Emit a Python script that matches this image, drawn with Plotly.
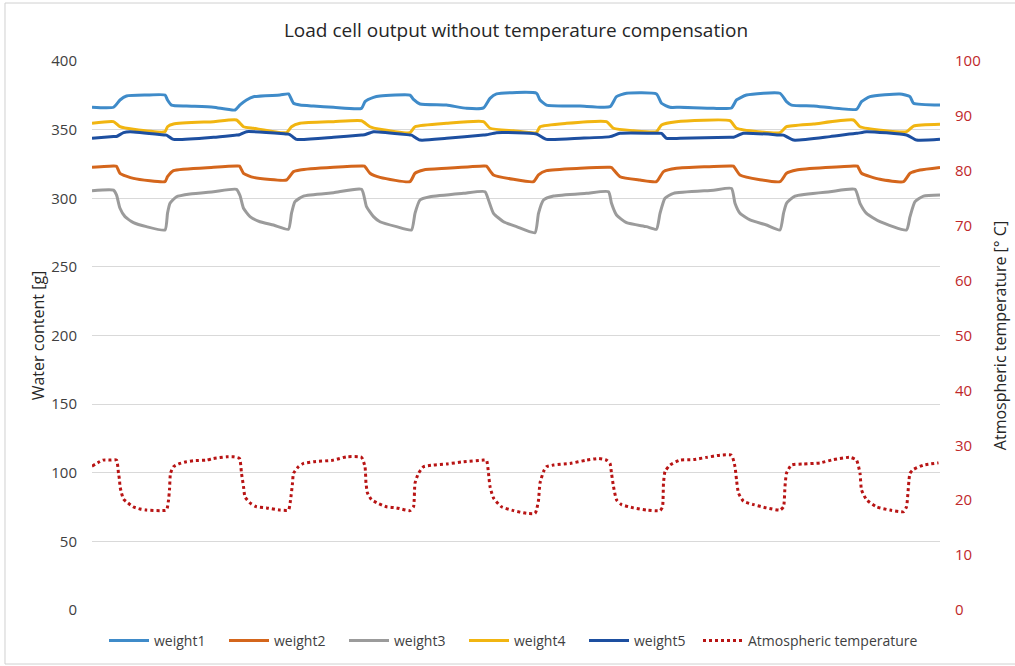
import plotly.graph_objects as go

# Elapsed time (h) and readings for each load cell and the ambient temperature
t_temp = [0, 2.2, 3.6, 4.9, 5.3, 5.5, 5.6, 5.9, 6.3, 7.2, 8.2, 9.6, 10.9, 13.6, 14.9, 15.3, 15.5, 15.7, 16.3,
          17.6, 18.9, 20.3, 22.9, 24.3, 26.9, 28.3, 29.5, 29.9, 30.3, 30.6, 31.6, 32.9, 34.9, 37.6, 39.3, 39.7,
          40.1, 40.3, 41.3, 42.3, 44.3, 48.3, 50.9, 53.9, 54.6, 54.8, 55.1, 55.9, 57.3, 58.9, 60.9, 63.6, 64.3,
          64.6, 65.3, 66.3, 68.3, 70.9, 74.3, 78.3, 78.9, 79.3, 79.6, 80.3, 81.9, 84.3, 86.9, 88.6, 88.9, 89.3,
          89.6, 90.3, 90.9, 92.3, 95.6, 98.9, 101.3, 102.9, 103.6, 103.9, 104.3, 104.9, 105.9, 108.3, 110.9,
          113.6, 114.1, 114.3, 114.6, 115.6, 117.6, 120.3, 122.9, 125.6, 127.9, 128.6, 128.9, 129.3, 130.3,
          132.3, 134.9, 137.6, 138.3, 138.6, 138.9, 139.9, 142.3, 145.6, 148.3, 151.6, 152.9, 153.6, 153.9,
          154.9, 156.9, 159.6, 162.3, 162.9, 163.6, 164.3, 166.3, 169.3]
temp_c = [26.2, 27.3, 27.3, 27.3, 24.9, 23.7, 22.5, 21.3, 20.2, 19.5, 18.8, 18.4, 18.2, 18.1, 18.2, 20.0, 21.9,
          24.9, 26.1, 26.7, 27.0, 27.2, 27.3, 27.6, 27.9, 27.9, 27.6, 24.9, 22.5, 20.6, 19.5, 18.8, 18.6, 18.2,
          18.2, 20.0, 23.1, 24.9, 26.1, 26.7, 27.0, 27.3, 27.9, 27.8, 26.1, 23.1, 21.3, 20.1, 19.4, 18.8, 18.6,
          18.1, 18.8, 23.1, 24.9, 26.1, 26.4, 26.6, 27.0, 27.3, 27.3, 24.9, 22.5, 20.4, 18.8, 18.1, 17.6, 17.6,
          18.2, 20.0, 23.1, 25.2, 26.1, 26.4, 26.7, 27.3, 27.6, 27.3, 26.7, 24.9, 22.5, 20.1, 19.2, 18.6, 18.2,
          18.1, 18.8, 23.1, 25.2, 26.4, 27.3, 27.4, 27.8, 28.2, 28.2, 26.1, 23.7, 21.3, 19.8, 19.2, 18.6, 18.2,
          18.8, 22.5, 24.9, 26.4, 26.6, 26.8, 27.4, 27.8, 27.3, 24.9, 21.9, 20.1, 18.8, 18.2, 17.9, 18.8, 24.9,
          25.6, 26.4, 26.8]

t_w1 = [0, 4.3, 5.6, 6.9, 10.9, 14.6, 15.1, 15.9, 18.9, 24.3, 28.6, 29.6, 30.9, 32.3, 37.6, 39.3, 40.3, 41.6,
        44.3, 48.3, 53.9, 54.6, 56.3, 57.6, 63.6, 64.3, 65.6, 70.9, 74.9, 78.3, 79.6, 80.9, 88.9, 89.6, 90.9,
        97.6, 103.6, 104.9, 106.9, 112.9, 113.9, 115.6, 117.6, 124.3, 127.9, 128.9, 130.9, 137.6, 138.9, 139.9,
        144.3, 152.9, 153.9, 155.6, 161.6, 163.6, 164.3, 169.6]
w1_g = [366.3, 366.3, 371.6, 374.5, 375.2, 375.2, 371.6, 367.9, 367.2, 366.3, 364.3, 368.0, 371.6, 374.0, 375.2,
        376.0, 369.2, 367.9, 367.2, 366.3, 365.5, 370.4, 373.5, 374.5, 375.2, 372.0, 368.7, 367.9, 365.5, 365.8,
        372.8, 376.0, 376.5, 371.6, 367.9, 367.2, 366.7, 374.0, 376.5, 376.0, 369.2, 366.3, 366.3, 365.5, 365.8,
        371.6, 375.2, 376.5, 370.4, 367.9, 367.2, 364.8, 370.4, 374.0, 376.0, 374.0, 369.2, 367.9]

t_w2 = [0, 4.3, 4.9, 5.6, 8.3, 14.6, 15.1, 16.3, 24.3, 28.9, 29.5, 30.3, 32.3, 38.9, 40.3, 41.6, 48.3, 53.9,
        54.5, 55.6, 57.6, 63.6, 64.6, 66.3, 70.9, 78.3, 78.9, 80.3, 84.3, 88.3, 89.3, 90.9, 97.6, 103.6, 103.9,
        105.6, 109.6, 112.9, 114.3, 116.9, 127.6, 128.3, 129.6, 137.6, 138.9, 140.9, 152.3, 153.1, 153.9, 157.6,
        162.3, 163.6, 165.6, 169.6]
w2_g = [322.5, 323.5, 323.3, 318.2, 314.5, 312.1, 315.7, 320.1, 322.5, 323.5, 323.4, 318.2, 315.2, 313.3, 319.4,
        320.6, 322.5, 323.5, 323.4, 318.2, 315.2, 312.1, 318.2, 320.6, 321.8, 323.5, 323.4, 317.0, 313.8, 312.1,
        317.0, 320.1, 321.8, 322.5, 322.4, 315.7, 313.3, 312.1, 319.4, 321.8, 323.5, 323.4, 317.0, 312.1, 318.2,
        320.6, 323.5, 323.4, 318.2, 313.8, 312.1, 318.2, 320.6, 322.5]

t_w3 = [0, 4.3, 4.9, 5.6, 6.6, 8.3, 10.9, 14.6, 15.1, 15.6, 16.9, 19.6, 24.3, 28.9, 29.6, 30.3, 31.6, 33.6,
        36.3, 39.3, 39.9, 40.6, 42.3, 48.3, 53.9, 54.9, 56.3, 57.6, 60.9, 63.9, 64.6, 65.6, 67.6, 74.3, 78.6,
        79.3, 80.3, 82.3, 84.9, 88.6, 89.3, 90.3, 92.3, 98.9, 103.3, 103.9, 104.9, 106.9, 110.9, 112.9, 113.6,
        114.6, 116.3, 124.3, 127.9, 128.6, 129.6, 131.6, 134.9, 137.6, 138.3, 138.9, 140.6, 147.6, 152.6,
        153.6, 154.9, 157.6, 162.9, 163.6, 164.6, 166.3, 169.6]
w3_g = [305.5, 305.9, 302.4, 292.7, 286.6, 282.2, 279.3, 276.9, 289.0, 296.3, 301.1, 303.1, 304.8, 306.5, 302.0,
        292.7, 286.6, 282.9, 280.5, 277.4, 289.0, 297.5, 301.6, 304.0, 306.5, 293.9, 286.6, 282.9, 279.3, 276.9,
        289.0, 298.7, 301.1, 303.6, 304.8, 298.7, 289.0, 282.9, 279.3, 274.9, 289.0, 298.7, 301.6, 303.6, 304.8,
        296.3, 287.8, 282.2, 279.3, 277.4, 289.0, 300.0, 303.6, 305.9, 307.2, 296.3, 289.0, 284.2, 280.5, 276.9,
        289.0, 296.3, 301.6, 304.8, 306.5, 296.3, 289.0, 282.9, 276.9, 286.6, 297.5, 301.6, 302.4]

t_w4 = [0, 4.3, 5.6, 8.3, 14.6, 15.1, 16.3, 24.3, 28.9, 30.3, 32.3, 38.9, 39.9, 41.6, 48.3, 53.9, 55.6, 57.6,
        63.6, 64.6, 70.9, 78.3, 79.6, 84.3, 88.9, 89.6, 94.9, 102.9, 104.3, 108.3, 112.9, 113.9, 116.9, 127.6,
        128.9, 137.6, 138.9, 144.3, 152.3, 153.6, 162.9, 164.3, 169.6]
w4_g = [354.6, 355.8, 352.1, 350.2, 348.5, 352.1, 354.1, 355.8, 357.0, 352.1, 351.0, 347.8, 352.1, 354.6, 355.8,
        356.5, 352.1, 350.2, 347.8, 352.1, 354.6, 355.8, 351.0, 349.2, 347.8, 352.1, 354.6, 355.8, 351.0, 349.2,
        348.5, 353.4, 355.8, 356.5, 351.0, 347.8, 352.1, 354.1, 357.0, 352.1, 348.5, 352.6, 353.9]

t_w5 = [0, 4.3, 4.9, 6.3, 7.6, 14.6, 14.9, 16.3, 24.3, 28.9, 29.5, 30.9, 38.9, 39.5, 40.9, 48.3, 53.9, 54.5,
        56.3, 63.6, 63.9, 65.6, 70.9, 78.3, 78.9, 80.9, 88.9, 90.9, 97.6, 103.6, 105.6, 112.9, 113.9, 114.9,
        117.6, 127.6, 128.3, 130.3, 137.6, 138.3, 140.3, 147.6, 152.9, 153.1, 154.9, 162.9, 164.9, 169.6]
w5_g = [343.7, 344.9, 345.0, 347.8, 348.5, 346.1, 346.0, 342.9, 344.4, 346.1, 346.3, 348.5, 346.8, 346.6, 342.9,
        344.4, 346.1, 346.2, 348.5, 346.1, 346.0, 342.4, 343.7, 346.1, 346.2, 347.8, 346.8, 342.9, 343.7, 344.9,
        347.3, 347.3, 347.2, 343.7, 343.7, 344.4, 344.5, 347.3, 346.1, 346.0, 342.4, 344.9, 347.3, 347.3, 348.5,
        346.1, 342.4, 342.9]

weight_series = [
    ("weight1", t_w1, w1_g, "#3F8BC9"),
    ("weight2", t_w2, w2_g, "#D4661C"),
    ("weight3", t_w3, w3_g, "#9B9B9B"),
    ("weight4", t_w4, w4_g, "#F1B511"),
    ("weight5", t_w5, w5_g, "#1D4FA0"),
]
temp_color = "#B81414"
text_font = "Open Sans"

fig = go.Figure()
for name, t, g, color in weight_series:
    fig.add_trace(go.Scatter(x=t, y=g, name=name, mode="lines", legend="legend",
                             line=dict(color=color, width=3, shape="spline", smoothing=0.5),
                             yaxis="y"))
fig.add_trace(go.Scatter(x=t_temp, y=temp_c, name="Atmospheric temperature", mode="lines",
                         legend="legend2",
                         line=dict(color=temp_color, width=3, dash="dot", shape="spline", smoothing=0.5),
                         yaxis="y2"))

# light frame around the whole chart area
frame = dict(type="line", xref="paper", yref="paper", line=dict(color="#D0D0D0", width=1))
left, right, top, bottom = -0.1026, 1.1, 1.1056, -0.0984
shapes = [
    dict(frame, x0=left, x1=left, y0=bottom, y1=top),
    dict(frame, x0=left, x1=right, y0=top, y1=top),
    dict(frame, x0=left, x1=right, y0=bottom, y1=bottom),
]

legend_y = (610 - 641) / 549
legend_font = dict(size=14, color="#404040")

fig.update_layout(
    width=1015, height=666,
    margin=dict(l=92, r=75, t=61, b=56, autoexpand=False),
    paper_bgcolor="white", plot_bgcolor="white",
    font=dict(family=text_font, color="#404040", size=14),
    title=dict(text="Load cell output without temperature compensation",
               x=0.5, xref="paper", xanchor="center",
               y=1 - 30 / 666, yref="container", yanchor="middle",
               font=dict(family=text_font, size=19, color="#262626")),
    xaxis=dict(range=[0, 169.6], showticklabels=False, showgrid=False, zeroline=False,
               showline=False, ticks=""),
    yaxis=dict(range=[0, 400], dtick=50, showgrid=True, gridcolor="#D9D9D9", gridwidth=1,
               zeroline=False, showline=False, ticks="", ticklabelstandoff=14,
               tickfont=dict(size=15, color="#404040"),
               title=dict(text="Water content [g]", standoff=2,
                          font=dict(size=16, color="#262626"))),
    yaxis2=dict(range=[0, 100], dtick=10, overlaying="y", side="right", showgrid=False,
                zeroline=False, showline=False, ticks="", ticklabelstandoff=14,
                tickfont=dict(size=15, color="#C0282A"),
                title=dict(text="Atmospheric temperature [° C]", standoff=15,
                           font=dict(size=16, color="#262626"))),
    legend=dict(orientation="h", x=(104 - 92) / 848, xanchor="left",
                y=legend_y, yanchor="middle", font=legend_font, itemwidth=40,
                entrywidth=65, entrywidthmode="pixels", bgcolor="rgba(0,0,0,0)"),
    legend2=dict(orientation="h", x=(698 - 92) / 848, xanchor="left",
                 y=legend_y, yanchor="middle", font=legend_font, itemwidth=40,
                 bgcolor="rgba(0,0,0,0)"),
    shapes=shapes,
    showlegend=True,
)

fig.write_html("out.html")
